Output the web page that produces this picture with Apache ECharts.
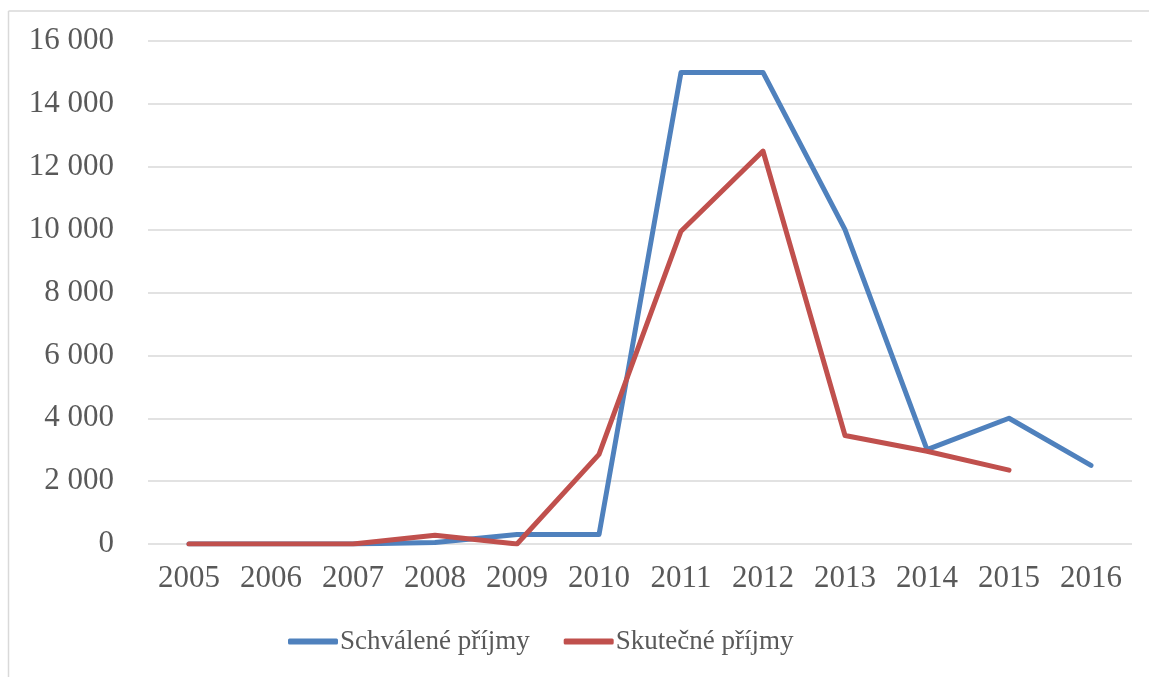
<!DOCTYPE html>
<html>
<head>
<meta charset="utf-8">
<script src="https://cdn.jsdelivr.net/npm/echarts@6/dist/echarts.min.js"></script>
<style>html,body{margin:0;padding:0;background:#fff;}#c{width:1149px;height:677px;}</style>
</head>
<body>
<div id="c"></div>
<script>
var years = ['2005','2006','2007','2008','2009','2010','2011','2012','2013','2014','2015','2016'];
var schvalene = [0, 0, 0, 50, 300, 300, 15000, 15000, 10000, 3000, 4000, 2500];
var skutecne = [0, 0, 0, 280, 0, 2850, 9950, 12500, 3450, 2950, 2350, null];
var yTicks = { min: 0, max: 16000, interval: 2000 };
var seriesNames = ['Schválené příjmy', 'Skutečné příjmy'];

var font = '"Liberation Serif", "Times New Roman", serif';
var txt = '#595959';
var chart = echarts.init(document.getElementById('c'), null, { renderer: 'canvas' });
chart.setOption({
  backgroundColor: '#fff',
  animation: false,
  graphic: [
    { type: 'line', shape: { x1: 8.5, y1: 11, x2: 8.5, y2: 677 }, style: { stroke: '#d9d9d9', lineWidth: 1.5 } },
    { type: 'line', shape: { x1: 8.5, y1: 11, x2: 1149, y2: 11 }, style: { stroke: '#d9d9d9', lineWidth: 1.5 } }
  ],
  grid: { left: 148, right: 17, top: 41, bottom: 133, containLabel: false },
  legend: {
    left: 283, top: 623,
    itemWidth: 50, itemHeight: 6, itemGap: 34,
    icon: 'roundRect',
    textStyle: { fontFamily: font, fontSize: 27, color: txt, padding: [0,0,0,-3] },
    data: seriesNames
  },
  xAxis: {
    type: 'category', data: years, boundaryGap: true,
    axisLine: { show: false }, axisTick: { show: false },
    axisLabel: { fontFamily: font, fontSize: 31, color: txt, margin: 19 }
  },
  yAxis: {
    type: 'value', min: yTicks.min, max: yTicks.max, interval: yTicks.interval,
    axisLine: { show: false }, axisTick: { show: false },
    splitLine: { lineStyle: { color: '#d9d9d9', width: 1.5 } },
    axisLabel: {
      fontFamily: font, fontSize: 31, color: txt, margin: 34,
      formatter: function (v) { return String(v).replace(/\B(?=(\d{3})+(?!\d))/g, ' '); }
    }
  },
  series: [
    { name: seriesNames[0], type: 'line', data: schvalene, symbol: 'none', color: '#4f81bd',
      lineStyle: { width: 5, color: '#4f81bd', cap: 'round', join: 'round' } },
    { name: seriesNames[1], type: 'line', data: skutecne, symbol: 'none', color: '#c0504d',
      lineStyle: { width: 5, color: '#c0504d', cap: 'round', join: 'round' } }
  ]
});
</script>
</body>
</html>
